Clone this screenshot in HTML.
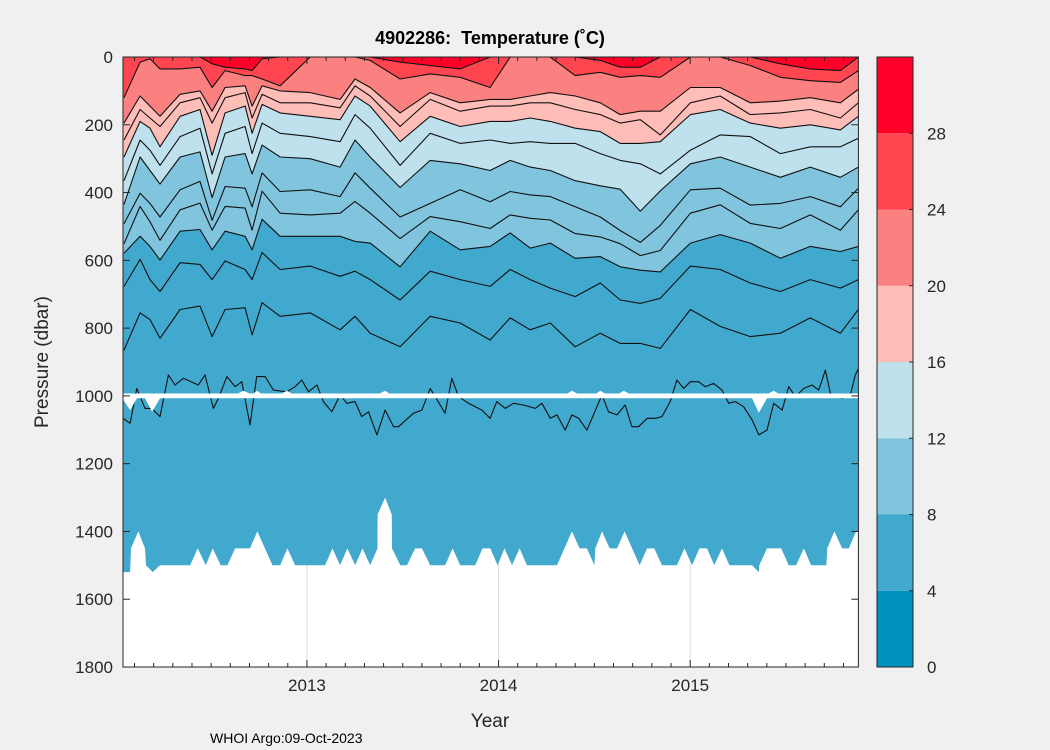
<!DOCTYPE html>
<html><head><meta charset="utf-8"><style>
html,body{margin:0;padding:0;background:#f0f0f0;}
svg{display:block;font-family:"Liberation Sans",Arial,sans-serif;}
</style></head><body>
<svg id="chart" width="1050" height="750" viewBox="0 0 1050 750" xmlns="http://www.w3.org/2000/svg">
<rect x="0" y="0" width="1050" height="750" fill="#f0f0f0"/>
<defs><clipPath id="plotclip"><rect x="123" y="57" width="735.5" height="610"/></clipPath><clipPath id="whiteclip"><path id="whiteclippath" d=""/></clipPath></defs>
<g id="plot" clip-path="url(#plotclip)"></g>
<g id="grid" clip-path="url(#whiteclip)"></g>
<g id="axes"></g>
<g id="cbar"></g>
<text x="490" y="44" text-anchor="middle" font-size="18" font-weight="bold" fill="#000" xml:space="preserve">4902286:  Temperature (˚C)</text>
<text x="490" y="727" text-anchor="middle" font-size="19" fill="#262626">Year</text>
<text transform="translate(48,362) rotate(-90)" text-anchor="middle" font-size="19" fill="#262626">Pressure (dbar)</text>
<text x="210" y="743" font-size="14" fill="#000">WHOI Argo:09-Oct-2023</text>
</svg>
<script>
// ---- data ----
const times = [2012.045,2012.129,2012.181,2012.233,2012.338,2012.442,2012.505,2012.573,2012.677,2012.714,2012.766,2012.860,2013.017,2013.173,2013.251,2013.330,2013.486,2013.643,2013.800,2013.956,2014.061,2014.165,2014.270,2014.400,2014.531,2014.635,2014.740,2014.844,2015.001,2015.157,2015.314,2015.471,2015.627,2015.784,2015.878];
const iso28 = [0,0,0,0,0,0,20,30,35,40,5,0,0,0,0,0,15,25,35,0,0,0,0,0,10,30,30,0,0,0,0,20,35,40,0];
const iso24 = [120,15,5,35,35,30,90,40,55,55,65,85,0,0,0,10,65,50,60,90,0,0,0,55,45,60,55,60,0,0,25,60,70,75,40];
const iso20 = [195,115,145,175,110,100,160,90,85,145,85,100,105,125,65,90,165,105,135,125,125,115,105,115,135,170,160,160,90,90,135,130,120,135,95];
const iso18 = [245,155,180,205,135,120,195,120,105,180,110,135,135,150,85,115,205,125,160,145,145,135,135,155,170,195,185,230,135,115,170,165,155,180,135];
const iso16 = [295,190,210,265,175,155,290,165,145,225,140,165,175,185,115,145,250,175,205,190,190,180,190,210,220,255,255,250,170,155,195,210,200,215,175];
const iso14 = [365,245,275,320,235,210,345,225,205,285,195,225,235,250,170,210,320,225,255,245,255,250,255,255,285,305,315,345,275,230,235,285,265,265,240];
const iso12 = [435,295,335,375,295,280,415,295,285,345,260,295,300,325,245,295,385,305,315,335,305,325,335,365,380,390,455,395,315,295,325,355,325,355,325];
const iso10 = [492,402,432,472,392,367,482,382,387,442,342,397,392,412,342,387,472,432,392,427,397,407,412,442,472,512,547,497,392,387,437,432,412,442,387];
const iso9 = [551,441,486,541,451,431,511,441,446,511,396,461,466,461,426,461,536,471,486,506,466,476,481,521,531,551,586,571,461,436,491,506,466,511,451];
const iso8 = [579,529,559,599,514,509,569,514,529,569,479,529,529,529,544,549,619,514,569,559,519,564,549,594,589,619,629,634,549,524,549,594,559,574,559];
const iso7 = [677,597,657,692,607,612,657,602,627,657,577,627,617,647,632,657,717,632,657,677,627,657,682,707,667,717,727,712,617,627,667,692,657,682,657];
const iso6 = [865,755,775,830,745,735,825,745,740,820,725,765,755,805,765,815,855,765,785,835,770,805,785,855,815,845,845,860,745,795,825,815,770,815,745];
const iso5Times = [2012.04,2012.077,2012.112,2012.155,2012.19,2012.233,2012.277,2012.312,2012.355,2012.433,2012.468,2012.512,2012.538,2012.582,2012.625,2012.66,2012.703,2012.738,2012.782,2012.825,2012.895,2012.938,2012.973,2013.008,2013.052,2013.086,2013.13,2013.173,2013.208,2013.251,2013.286,2013.321,2013.365,2013.408,2013.452,2013.478,2013.556,2013.6,2013.643,2013.721,2013.756,2013.791,2013.843,2013.913,2013.956,2013.991,2014.035,2014.078,2014.13,2014.191,2014.226,2014.27,2014.305,2014.348,2014.383,2014.418,2014.461,2014.54,2014.574,2014.618,2014.661,2014.696,2014.731,2014.775,2014.818,2014.853,2014.896,2014.931,2014.966,2015.001,2015.044,2015.079,2015.123,2015.166,2015.201,2015.236,2015.279,2015.323,2015.358,2015.401,2015.436,2015.48,2015.514,2015.549,2015.593,2015.636,2015.671,2015.706,2015.732,2015.793,2015.836,2015.862,2015.878];
const iso5 = [1066,1081,978,1037,1037,1061,938,968,948,968,938,1037,1007,943,973,958,1086,943,943,983,988,973,953,988,968,1017,1047,997,1022,1017,1061,1047,1115,1042,1091,1091,1051,1042,978,1051,948,1002,1022,1042,1066,1017,1037,1022,1027,1037,1022,1066,1056,1101,1056,1066,1101,997,1047,1056,1027,1091,1091,1066,1066,1061,1017,953,978,958,958,973,963,983,1022,1017,1032,1071,1115,1101,1022,1042,973,1002,978,968,983,924,993,1007,997,938,920];
const bottomTimes = [2012.04,2012.077,2012.082,2012.120,2012.155,2012.160,2012.195,2012.233,2012.390,2012.430,2012.472,2012.508,2012.550,2012.585,2012.625,2012.703,2012.741,2012.820,2012.860,2012.898,2012.938,2013.095,2013.133,2013.173,2013.211,2013.252,2013.290,2013.330,2013.368,2013.369,2013.408,2013.443,2013.444,2013.487,2013.522,2013.565,2013.600,2013.643,2013.721,2013.760,2013.800,2013.878,2013.916,2013.957,2013.995,2014.031,2014.070,2014.110,2014.148,2014.305,2014.383,2014.423,2014.461,2014.500,2014.505,2014.540,2014.580,2014.618,2014.658,2014.736,2014.775,2014.813,2014.853,2014.931,2014.970,2015.010,2015.048,2015.088,2015.126,2015.166,2015.205,2015.323,2015.358,2015.361,2015.401,2015.475,2015.514,2015.553,2015.593,2015.631,2015.711,2015.715,2015.753,2015.793,2015.828,2015.866,2015.878];
const bottomDepth = [1520,1520,1450,1400,1450,1500,1520,1500,1500,1450,1500,1450,1500,1500,1450,1450,1400,1500,1500,1450,1500,1500,1450,1500,1450,1500,1450,1500,1450,1350,1300,1350,1450,1500,1500,1450,1450,1500,1500,1450,1500,1500,1450,1450,1500,1450,1500,1450,1500,1500,1400,1450,1450,1500,1450,1400,1450,1450,1400,1500,1450,1450,1500,1500,1450,1500,1450,1450,1500,1450,1500,1500,1520,1500,1450,1450,1500,1500,1450,1500,1500,1450,1400,1450,1450,1400,1400];
const gapTimes = [2012.04,2012.077,2012.113,2012.155,2012.192,2012.233,2012.64,2012.668,2012.70,2012.72,2012.738,2012.76,2012.87,2012.895,2012.92,2013.38,2013.408,2013.43,2014.36,2014.383,2014.41,2014.51,2014.531,2014.555,2014.63,2014.653,2014.68,2015.323,2015.358,2015.401,2015.41,2015.436,2015.46,2015.878];
const gapTop = [993,993,993,993,993,993,993,985,993,993,985,993,993,985,993,993,985,993,993,985,993,993,985,993,993,985,993,993,993,993,993,985,993,993];
const gapBottom = [1010,1042,1007,1007,1047,1007,1007,1007,1007,1007,1007,1007,1007,1007,1007,1007,1007,1007,1007,1007,1007,1007,1007,1007,1007,1007,1007,1007,1050,1007,1007,1007,1007,1007];
const yTicks = [0,200,400,600,800,1000,1200,1400,1600,1800];
const xTickYears = [2013,2014,2015];
const cbLevels = [0,4,8,12,16,20,24,28,32];
const cbLabels = [0,4,8,12,16,20,24,28];
const bandColors = ["#0091c0","#41a9cd","#80c4de","#bfe1ed","#ffbdb8","#fb8080","#ff4650","#ff0029"];

// ---- axes ----
const X0=123, X1=858.4, Y0=57, Y1=667, T0=2012.04, T1=2015.878;
const X = t => X0 + (t - T0) * (X1 - X0) / (T1 - T0);
const Y = d => Y0 + d * (Y1 - Y0) / 1800;
const NS="http://www.w3.org/2000/svg";
function mk(tag, attrs, parent){ const e=document.createElementNS(NS,tag); for(const k in attrs) e.setAttribute(k,attrs[k]); parent.appendChild(e); return e; }
const plot=document.getElementById('plot'), axes=document.getElementById('axes'), cbar=document.getElementById('cbar'), grid=document.getElementById('grid');

const base = mk('rect',{x:X0,y:Y0,width:X1-X0,height:Y1-Y0,fill:bandColors[1]},plot);



function linePts(ts, ds){ return ts.map((t,i)=>X(t).toFixed(1)+','+Y(ds[i]).toFixed(1)); }
function fillAbove(ds, color, name){
  const pts = linePts(times, ds);
  const d = 'M'+(X0-2)+','+(Y0-2)+' L'+(X0-2)+','+Y(ds[0])+' L'+pts.join(' L')+' L'+(X1+2)+','+Y(ds[ds.length-1])+' L'+(X1+2)+','+(Y0-2)+' Z';
  const p = mk('path',{d:d,fill:color},plot);
  
  
}
fillAbove(iso8, bandColors[2], 'band-8-12');
fillAbove(iso12, bandColors[3], 'band-12-16');
fillAbove(iso16, bandColors[4], 'band-16-20');
fillAbove(iso20, bandColors[5], 'band-20-24');
fillAbove(iso24, bandColors[6], 'band-24-28');
fillAbove(iso28, bandColors[7], 'band-28-32');

function drawLine(ts, ds, name){
  const pts = linePts(ts, ds);
  const p = mk('polyline',{points:pts.join(' '),fill:'none',stroke:'#111','stroke-width':1.1,'stroke-linejoin':'round'},plot);
  
  
}
drawLine(times, iso28, 'isotherm-28');
drawLine(times, iso24, 'isotherm-24');
drawLine(times, iso20, 'isotherm-20');
drawLine(times, iso18, 'isotherm-18');
drawLine(times, iso16, 'isotherm-16');
drawLine(times, iso14, 'isotherm-14');
drawLine(times, iso12, 'isotherm-12');
drawLine(times, iso10, 'isotherm-10');
drawLine(times, iso9, 'isotherm-9');
drawLine(times, iso8, 'isotherm-8');
drawLine(times, iso7, 'isotherm-7');
drawLine(times, iso6, 'isotherm-6');
drawLine(iso5Times, iso5, 'isotherm-5');

{
  const top = gapTimes.map((t,i)=>X(t).toFixed(1)+','+Y(gapTop[i]).toFixed(1));
  const bot = gapTimes.map((t,i)=>X(t).toFixed(1)+','+Y(gapBottom[i]).toFixed(1)).reverse();
  const p = mk('polygon',{points:top.concat(bot).join(' '),fill:'#ffffff'},plot);
  
  
}
{
  const pts = bottomTimes.map((t,i)=>X(t).toFixed(1)+','+Y(bottomDepth[i]).toFixed(1));
  const d = 'M'+(X0-2)+','+Y(bottomDepth[0])+' L'+pts.join(' L')+' L'+(X1+2)+','+Y(bottomDepth[bottomDepth.length-1])+' L'+(X1+2)+','+(Y1+2)+' L'+(X0-2)+','+(Y1+2)+' Z';
  const p = mk('path',{d:d,fill:'#ffffff'},plot);
  
  
  document.getElementById('whiteclippath').setAttribute('d', d);
}
xTickYears.forEach(yr=>{
  const g = mk('line',{x1:X(yr),x2:X(yr),y1:Y0,y2:Y1,stroke:'#dcdcdc','stroke-width':1},grid);
  
  
});

const frame = mk('rect',{x:X0,y:Y0,width:X1-X0,height:Y1-Y0,fill:'none',stroke:'#262626','stroke-width':1},axes);


for(let k=Math.ceil(T0*10); k<=Math.floor(T1*10); k++){
  const t=k/10, x=X(t), major = (k%10===0), L = major?7:4;
  const a = mk('line',{x1:x,x2:x,y1:Y1,y2:Y1-L,stroke:'#262626','stroke-width':1},axes);
  
  
  const b = mk('line',{x1:x,x2:x,y1:Y0,y2:Y0+L,stroke:'#262626','stroke-width':1},axes);
  
  
}
xTickYears.forEach(yr=>{
  const t = mk('text',{x:X(yr),y:Y1+24,'text-anchor':'middle','font-size':17,fill:'#262626'},axes);
  t.textContent = yr;
  
  
});
yTicks.forEach(v=>{
  const y=Y(v);
  const a = mk('line',{x1:X0,x2:X0+7,y1:y,y2:y,stroke:'#262626','stroke-width':1},axes);
  
  
  const b = mk('line',{x1:X1-7,x2:X1,y1:y,y2:y,stroke:'#262626','stroke-width':1},axes);
  
  
  const t = mk('text',{x:X0-10,y:y+6,'text-anchor':'end','font-size':17,fill:'#262626'},axes);
  t.textContent = v;
  
  
});

const CX0=877, CX1=913;
const CY = v => Y1 - v*(Y1-Y0)/32;
for(let i=0;i<bandColors.length;i++){
  const r = mk('rect',{x:CX0,y:CY(cbLevels[i+1]),width:CX1-CX0,height:CY(cbLevels[i])-CY(cbLevels[i+1]),fill:bandColors[i]},cbar);
  
  
}
const cf = mk('rect',{x:CX0,y:Y0,width:CX1-CX0,height:Y1-Y0,fill:'none',stroke:'#262626','stroke-width':1},cbar);


cbLabels.forEach(v=>{
  const y=CY(v);
  const a = mk('line',{x1:CX1-4,x2:CX1,y1:y,y2:y,stroke:'#262626','stroke-width':1},cbar);
  
  
  const t = mk('text',{x:CX1+14,y:y+6,'font-size':17,fill:'#262626'},cbar);
  t.textContent = v;
  
  
});
</script>
</body></html>
